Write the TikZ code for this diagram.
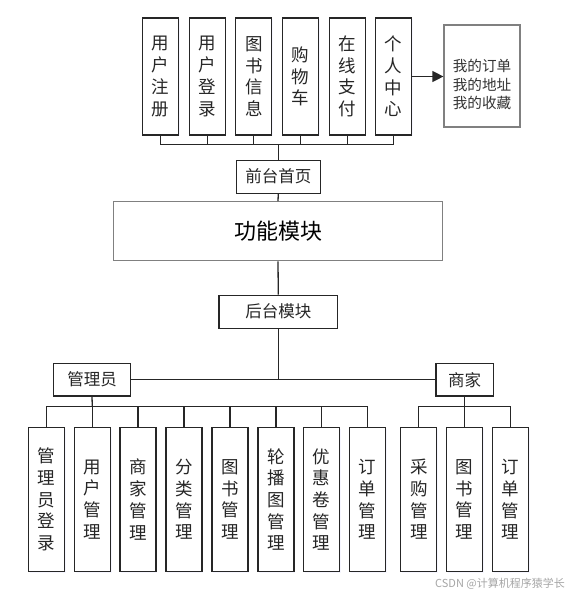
\documentclass[tikz,border=0pt]{standalone}
\usepackage{fontspec}
\newfontfamily\cjk{Noto Sans CJK SC}
\usepackage{tikz}
\usetikzlibrary{arrows.meta,shadows}

\tikzset{
  vbox/.style={draw=black!85, line width=1.2pt, fill=white, inner sep=0pt,
    minimum width=36pt, align=center, text=black!85,
    drop shadow={shadow xshift=1.2pt, shadow yshift=-1.2pt, opacity=.07, fill=blue!50},
    font=\cjk\fontsize{17.5}{21.7}\selectfont},
  topbox/.style={vbox, minimum height=117pt},
  lowbox/.style={vbox, minimum height=144pt},
  hbox/.style={draw=black!85, line width=1.2pt, fill=white, inner sep=0pt,
    minimum height=33pt, text=black!85, font=\cjk\fontsize{16.5}{18}\selectfont},
  graybox/.style={draw=black!50, line width=1.2pt, fill=white, inner sep=0pt},
  link/.style={line width=1.3pt, black!85}
}

\begin{document}
\begin{tikzpicture}[x=1pt, y=-1pt]
    % Area del disegno
    \fill[white] (0,0) rectangle (568,595);
    \useasboundingbox (0,0) rectangle (568,595);

    % Moduli del front-end
    \node[topbox] (zc) at (160.7,76.5) {用\\户\\注\\册};
    \node[topbox] (dl) at (207.2,76.5) {用\\户\\登\\录};
    \node[topbox] (ts) at (253.8,76.5) {图\\书\\信\\息};
    \node[topbox] (gw) at (300.5,76.5) {购\\物\\车};
    \node[topbox] (zf) at (347.2,76.5) {在\\线\\支\\付};
    \node[topbox] (gr) at (393.7,76.5) {个\\人\\中\\心};

    % Riquadro del centro personale
    \node[graybox, minimum width=76pt, minimum height=102pt] (wd) at (482,76) {};
    \node[font=\cjk\fontsize{14.6}{18.7}\selectfont, align=center, text=black!80]
      (wdtext) at (482,84.7) {我的订单\\我的地址\\我的收藏};
    \draw[link, -{Triangle[length=11pt,width=11pt]}] (gr.east) -- (gr.east -| wd.west);

    % Home page e modulo funzioni
    \node[hbox, minimum width=84pt] (qt) at (278.3,176.7) {前台首页};
    \node[graybox, minimum width=329pt, minimum height=59pt,
      font=\cjk\fontsize{22}{24}\selectfont] (gn) at (278,231.2) {功能模块};
    \node[hbox, minimum width=118.7pt] (ht) at (278.3,311.7) {后台模块};

    % Collegamenti superiori
    \coordinate (topbus) at (278.3,144.3);
    \foreach \n in {zc,dl,ts,gw,zf,gr}
      \draw[link] (\n.south) |- (topbus);
    \draw[link] (topbus) -- (qt.north);
    \draw[link] (qt.south) -- (gn.north);
    \draw[link] (gn.south) -- (ht.north);

    % Ruoli
    \node[hbox, minimum width=77.4pt, minimum height=32.7pt] (gly) at (92,379.7) {管理员};
    \node[hbox, minimum width=57.3pt, minimum height=32.7pt] (sj) at (464.7,379.7) {商家};
    \draw[link] (gly.east) -- (sj.west);
    \draw[link] (ht.south) -- (ht.south |- gly.east);

    % Moduli dell'amministratore
    \node[lowbox] (a1) at (46.3,499.5) {管\\理\\员\\登\\录};
    \node[lowbox] (a2) at (92.3,499.5) {用\\户\\管\\理};
    \node[lowbox] (a3) at (138,499.5) {商\\家\\管\\理};
    \node[lowbox] (a4) at (184,499.5) {分\\类\\管\\理};
    \node[lowbox] (a5) at (230,499.5) {图\\书\\管\\理};
    \node[lowbox] (a6) at (276,499.5) {轮\\播\\图\\管\\理};
    \node[lowbox] (a7) at (321.7,499.5) {优\\惠\\卷\\管\\理};
    \node[lowbox] (a8) at (367.7,499.5) {订\\单\\管\\理};

    % Moduli del commerciante
    \node[lowbox] (s1) at (418.8,499.5) {采\\购\\管\\理};
    \node[lowbox] (s2) at (464.7,499.5) {图\\书\\管\\理};
    \node[lowbox] (s3) at (510.5,499.5) {订\\单\\管\\理};

    % Collegamenti inferiori
    \coordinate (adminbus) at (92.3,406.7);
    \coordinate (shopbus) at (464.7,406.7);
    \draw[link] (gly.south) -- (adminbus);
    \foreach \n in {a1,a2,a3,a4,a5,a6,a7,a8}
      \draw[link] (\n.north) |- (adminbus);
    \draw[link] (sj.south) -- (shopbus);
    \foreach \n in {s1,s2,s3}
      \draw[link] (\n.north) |- (shopbus);

    % Filigrana
    \node[font=\cjk\fontsize{11}{12}\selectfont, text=black!35] (wm) at (500,583.3)
      {CSDN @计算机程序猿学长};
\end{tikzpicture}
\end{document}
